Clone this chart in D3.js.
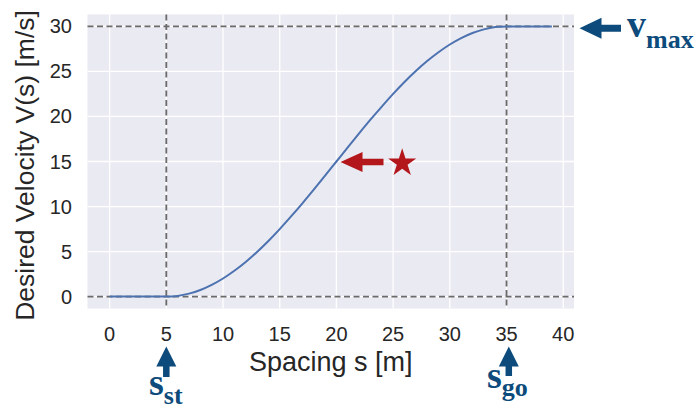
<!DOCTYPE html>
<html>
<head>
<meta charset="utf-8">
<script src="https://cdn.jsdelivr.net/npm/d3@7"></script>
<style>
  body { margin: 0; background: #fff; }
  svg { display: block; }
  .tick-label { font-family: "Liberation Sans", Arial, sans-serif; font-size: 20px; fill: #262626; }
  .axis-label { font-family: "Liberation Sans", Arial, sans-serif; fill: #262626; }
  .note { font-family: "Liberation Serif", "Times New Roman", serif; font-weight: bold; fill: #0c4b7b; }
</style>
</head>
<body>
<svg width="697" height="409"></svg>
<script>
// values
var spacing = [0, 1, 2, 3, 4, 5, 6, 7, 8, 9, 10, 11, 12, 13, 14, 15, 16, 17, 18, 19,
    20, 21, 22, 23, 24, 25, 26, 27, 28, 29, 30, 31, 32, 33, 34, 35, 36, 37, 38, 39];
var velocity = [0, 0, 0, 0, 0, 0, 0.08, 0.33, 0.73, 1.30, 2.01, 2.87, 3.85, 4.96, 6.18, 7.5, 8.90, 10.36, 11.88, 13.43,
    15.0, 16.57, 18.12, 19.64, 21.10, 22.5, 23.82, 25.04, 26.15, 27.13, 27.99, 28.70, 29.27, 29.67, 29.92, 30, 30, 30, 30, 30];
var xTicks = [0, 5, 10, 15, 20, 25, 30, 35, 40];
var yTicks = [0, 5, 10, 15, 20, 25, 30];
var refS = [5, 35];      // s_st, s_go
var refV = [0, 30];      // 0, v_max
var starPoint = [25.8, 15];

var svg = d3.select("svg");

var plot = { left: 87.5, right: 574, top: 14.5, bottom: 308.5 };

var x = d3.scaleLinear()
    .domain([-1.95, 40.95])
    .range([plot.left, plot.right]);

var y = d3.scaleLinear()
    .domain([-1.32, 31.32])
    .range([plot.bottom, plot.top]);

var blue = "#0c4b7b";
var red = "#b3161b";

// background
svg.append("rect")
    .attr("x", plot.left)
    .attr("y", plot.top)
    .attr("width", plot.right - plot.left)
    .attr("height", plot.bottom - plot.top)
    .attr("fill", "#eaeaf2");

// grid
svg.append("g")
    .selectAll("line")
    .data(xTicks)
    .enter()
    .append("line")
    .attr("x1", function (d) { return x(d); })
    .attr("x2", function (d) { return x(d); })
    .attr("y1", plot.top)
    .attr("y2", plot.bottom)
    .attr("stroke", "#fff")
    .attr("stroke-width", 1.3);

svg.append("g")
    .selectAll("line")
    .data(yTicks)
    .enter()
    .append("line")
    .attr("y1", function (d) { return y(d); })
    .attr("y2", function (d) { return y(d); })
    .attr("x1", plot.left)
    .attr("x2", plot.right)
    .attr("stroke", "#fff")
    .attr("stroke-width", 1.3);

// tick labels
svg.append("g")
    .selectAll("text")
    .data(xTicks)
    .enter()
    .append("text")
    .attr("class", "tick-label")
    .attr("x", function (d) { return x(d); })
    .attr("y", 341)
    .attr("text-anchor", "middle")
    .text(function (d) { return d; });

svg.append("g")
    .selectAll("text")
    .data(yTicks)
    .enter()
    .append("text")
    .attr("class", "tick-label")
    .attr("x", 72)
    .attr("y", function (d) { return y(d) + 7; })
    .attr("text-anchor", "end")
    .text(function (d) { return d; });

// axis labels
svg.append("text")
    .attr("class", "axis-label")
    .attr("font-size", 27)
    .attr("x", (plot.left + plot.right) / 2)
    .attr("y", 371)
    .attr("text-anchor", "middle")
    .text("Spacing s [m]");

svg.append("text")
    .attr("class", "axis-label")
    .attr("font-size", 26.5)
    .attr("transform", "translate(34," + ((plot.top + plot.bottom) / 2 + 4) + ") rotate(-90)")
    .attr("text-anchor", "middle")
    .text("Desired Velocity V(s) [m/s]");

// reference dashed lines
svg.append("g")
    .selectAll("line")
    .data(refV)
    .enter()
    .append("line")
    .attr("y1", function (d) { return y(d); })
    .attr("y2", function (d) { return y(d); })
    .attr("x1", plot.left)
    .attr("x2", plot.right)
    .attr("stroke", "#6a6a6a")
    .attr("stroke-width", 1.8)
    .attr("stroke-dasharray", "6,3.5");

svg.append("g")
    .selectAll("line")
    .data(refS)
    .enter()
    .append("line")
    .attr("x1", function (d) { return x(d); })
    .attr("x2", function (d) { return x(d); })
    .attr("y1", plot.top)
    .attr("y2", plot.bottom)
    .attr("stroke", "#6a6a6a")
    .attr("stroke-width", 1.8)
    .attr("stroke-dasharray", "6,3.5");

// curve
var line = d3.line()
    .x(function (d, i) { return x(spacing[i]); })
    .y(function (d) { return y(d); })
    .curve(d3.curveMonotoneX);

svg.append("path")
    .datum(velocity)
    .attr("d", line)
    .attr("fill", "none")
    .attr("stroke", "#4c72b0")
    .attr("stroke-width", 2);

// block arrow from (x1,y1) tail to (x2,y2) tip
function arrow(x1, y1, x2, y2, color, head, headW, shaftW) {
    var dx = x2 - x1, dy = y2 - y1;
    var len = Math.sqrt(dx * dx + dy * dy);
    var ux = dx / len, uy = dy / len;
    var px = -uy, py = ux;
    var bx = x2 - ux * head, by = y2 - uy * head;
    var pts = [
        [x1 + px * shaftW / 2, y1 + py * shaftW / 2],
        [bx + px * shaftW / 2, by + py * shaftW / 2],
        [bx + px * headW / 2, by + py * headW / 2],
        [x2, y2],
        [bx - px * headW / 2, by - py * headW / 2],
        [bx - px * shaftW / 2, by - py * shaftW / 2],
        [x1 - px * shaftW / 2, y1 - py * shaftW / 2]
    ];
    svg.append("path")
        .attr("d", "M" + pts.join("L") + "Z")
        .attr("fill", color);
}

// v_max
arrow(621, y(29.8), 579.5, y(29.8), blue, 22, 21, 7);
var vmax = svg.append("text").attr("class", "note").attr("x", 627).attr("y", 36.5);
vmax.append("tspan").attr("font-size", 38).text("v");
vmax.append("tspan").attr("font-size", 26).attr("dy", 11).text("max");

// s_st
arrow(x(5), 377, x(5), 346.5, blue, 20, 20, 6.5);
var sst = svg.append("text").attr("class", "note").attr("x", 149).attr("y", 395);
sst.append("tspan").attr("font-size", 38).text("s");
sst.append("tspan").attr("font-size", 26).attr("dy", 9).text("st");

// s_go
arrow(x(35.2), 376, x(35.2), 346.5, blue, 20, 20, 6.5);
var sgo = svg.append("text").attr("class", "note").attr("x", 487).attr("y", 388);
sgo.append("tspan").attr("font-size", 38).text("s");
sgo.append("tspan").attr("font-size", 26).attr("dy", 8).text("go");

// star and red arrow
arrow(383.5, y(starPoint[1]) + 0.5, 340.5, y(starPoint[1]) + 0.5, red, 22, 20, 6.7);
svg.append("path")
    .attr("d", d3.symbol().type(d3.symbolStar).size(245)())
    .attr("transform", "translate(" + x(starPoint[0]) + "," + (y(starPoint[1]) + 1.5) + ")")
    .attr("fill", red);
</script>
</body>
</html>
